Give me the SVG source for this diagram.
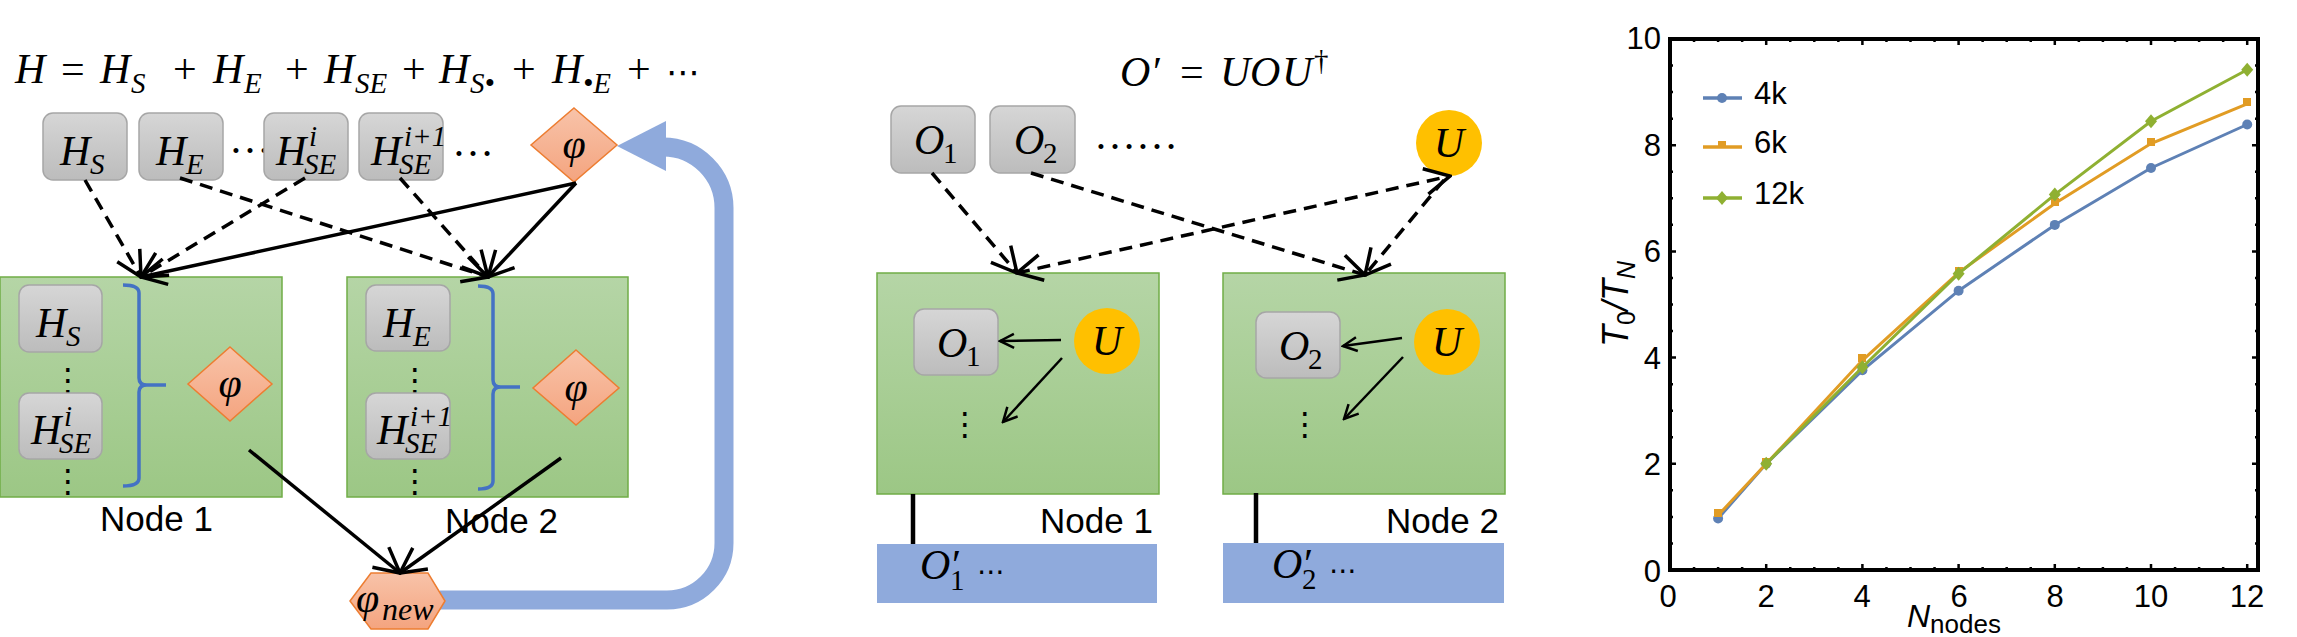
<svg xmlns="http://www.w3.org/2000/svg" width="2297" height="637" viewBox="0 0 2297 637">
<style>
.m{font-family:"Liberation Serif",serif;font-style:italic;font-size:42px;fill:#000}
.u{font-family:"Liberation Serif",serif;font-style:normal;font-size:42px}
.sb{font-size:29px}
.dots{font-family:"DejaVu Sans",sans-serif;font-style:normal;fill:#000}
.lbl{font-family:"Liberation Sans",Arial,sans-serif;font-size:35px;fill:#000}
.tick{font-family:"Liberation Sans",Arial,sans-serif;font-size:31px;fill:#000}
.box{fill:url(#gGray);stroke:#a6a6a6;stroke-width:1.5}
.node{fill:url(#gGreen);stroke:#70ad47;stroke-width:1.5}
.dia{fill:url(#gOrange);stroke:#ed7d31;stroke-width:1.5}
.ucirc{fill:#ffc000}
.out{fill:#8faadc}
.brk{fill:none;stroke:#4472c4;stroke-width:3.5}
.sol{fill:none;stroke:#000;stroke-width:3.5;marker-end:url(#ah)}
.dash{fill:none;stroke:#000;stroke-width:3.5;stroke-dasharray:13 8;marker-end:url(#ah)}
.thin{fill:none;stroke:#000;stroke-width:2.5;marker-end:url(#as)}
.vl{stroke:#000;stroke-width:4.5}
.ax{fill:none;stroke:#000;stroke-width:4}
.tk{stroke:#000;stroke-width:2.5}
</style>
<defs>
<linearGradient id="gGray" x1="0" y1="0" x2="0" y2="1"><stop offset="0" stop-color="#d6d6d6"/><stop offset="1" stop-color="#bcbcbc"/></linearGradient>
<linearGradient id="gGreen" x1="0" y1="0" x2="0" y2="1"><stop offset="0" stop-color="#b5d5a6"/><stop offset="1" stop-color="#9cc785"/></linearGradient>
<linearGradient id="gOrange" x1="0" y1="0" x2="0" y2="1"><stop offset="0" stop-color="#f8c3a9"/><stop offset="1" stop-color="#f4a47f"/></linearGradient>
<marker id="ah" markerUnits="userSpaceOnUse" viewBox="0 0 30 30" markerWidth="30" markerHeight="30" refX="28" refY="15" orient="auto-start-reverse"><path d="M3,2 L28,15 L3,28" fill="none" stroke="#000" stroke-width="3.5"/></marker>
<marker id="as" markerUnits="userSpaceOnUse" viewBox="0 0 18 18" markerWidth="18" markerHeight="18" refX="16" refY="9" orient="auto"><path d="M2,2 L16,9 L2,16" fill="none" stroke="#000" stroke-width="2.5"/></marker>
</defs>

<!-- ============ LEFT PANEL ============ -->
<text id="eqH" class="m" y="83"><tspan x="15">H</tspan><tspan class="u" x="61">=</tspan><tspan x="100">H</tspan><tspan class="sb" x="131" y="93">S</tspan><tspan class="u" x="173" y="83">+</tspan><tspan x="213">H</tspan><tspan class="sb" x="244" y="93">E</tspan><tspan class="u" x="285" y="83">+</tspan><tspan x="324">H</tspan><tspan class="sb" x="355" y="93">SE</tspan><tspan class="u" x="402" y="83">+</tspan><tspan x="439">H</tspan><tspan class="sb" x="470" y="93">S•</tspan><tspan class="u" x="512" y="83">+</tspan><tspan x="552">H</tspan><tspan class="sb" x="583" y="93">•E</tspan><tspan class="u" x="627" y="83">+</tspan></text>
<text class="dots" x="666" y="84" font-size="34">⋯</text>

<path id="feedback" d="M440,600 L667,600 A57,57 0 0 0 724,543 L724,208 A61,61 0 0 0 663,147" fill="none" stroke="#8faadc" stroke-width="19"/>
<polygon points="617,146 666,121 666,171" fill="#8faadc"/>

<g id="topHS"><rect class="box" x="43" y="113" width="84" height="67" rx="10"/><text class="m" x="60" y="165">H<tspan class="sb" x="90" y="174">S</tspan></text></g>
<g id="topHE"><rect class="box" x="139" y="113" width="84" height="67" rx="10"/><text class="m" x="156" y="165">H<tspan class="sb" x="186" y="174">E</tspan></text></g>
<text class="m" x="229" y="153" font-size="30" style="font-style:normal">…</text>
<g id="topHSEi"><rect class="box" x="264" y="113" width="84" height="67" rx="10"/><text class="m" x="276" y="165">H<tspan class="sb" x="304" y="174">SE</tspan><tspan class="sb" x="309" y="146">i</tspan></text></g>
<g id="topHSEi1"><rect class="box" x="359" y="113" width="84" height="67" rx="10"/><text class="m" x="371" y="165">H<tspan class="sb" x="399" y="174">SE</tspan><tspan class="sb" x="404" y="146">i+1</tspan></text></g>
<text class="m" x="452" y="156" font-size="30" style="font-style:normal">…</text>
<g id="topPhi"><polygon class="dia" points="574,108 617,145 574,182 531,145"/><text class="m" x="574" y="158" text-anchor="middle">φ</text></g>

<g id="node1L">
<rect class="node" x="0" y="277" width="282" height="220"/>
<rect class="box" x="19" y="285" width="83" height="67" rx="10"/><text class="m" x="36" y="337">H<tspan class="sb" x="66" y="346">S</tspan></text>
<text class="dots" x="52" y="391" font-size="32">⋮</text>
<rect class="box" x="19" y="393" width="83" height="66" rx="10"/><text class="m" x="31" y="444">H<tspan class="sb" x="59" y="453">SE</tspan><tspan class="sb" x="64" y="426">i</tspan></text>
<text class="dots" x="52" y="492" font-size="32">⋮</text>
<path class="brk" d="M123,285 Q139,285 139,293 L139,378 Q139,385 147,385 L166,385 M147,385 Q139,385 139,392 L139,478 Q139,486 123,486"/>
<polygon class="dia" points="230,347 272,384 230,421 188,384"/><text class="m" x="230" y="397" text-anchor="middle">φ</text>
<text class="lbl" x="100" y="531">Node 1</text>
</g>

<g id="node2L">
<rect class="node" x="347" y="277" width="281" height="220"/>
<rect class="box" x="366" y="285" width="84" height="66" rx="10"/><text class="m" x="383" y="337">H<tspan class="sb" x="413" y="346">E</tspan></text>
<text class="dots" x="399" y="391" font-size="32">⋮</text>
<rect class="box" x="366" y="393" width="84" height="66" rx="10"/><text class="m" x="377" y="444">H<tspan class="sb" x="405" y="453">SE</tspan><tspan class="sb" x="410" y="426">i+1</tspan></text>
<text class="dots" x="399" y="492" font-size="32">⋮</text>
<path class="brk" d="M478,286 Q493,286 493,294 L493,380 Q493,387 501,387 L520,387 M501,387 Q493,387 493,394 L493,481 Q493,489 478,489"/>
<polygon class="dia" points="576,350 619,388 576,425 533,388"/><text class="m" x="576" y="401" text-anchor="middle">φ</text>
<text class="lbl" x="445" y="533">Node 2</text>
</g>

<g id="phiNew"><polygon class="dia" points="350,601 371,573 428,573 445,601 428,629 371,629"/><text class="m" x="356" y="612">φ<tspan x="382" y="620" font-size="32">new</tspan></text></g>

<g id="connectorsL">
<line class="dash" x1="85" y1="180" x2="141" y2="277"/>
<line class="dash" x1="305" y1="178" x2="141" y2="277"/>
<line class="dash" x1="180" y1="178" x2="488" y2="277"/>
<line class="dash" x1="400" y1="178" x2="488" y2="277"/>
<line class="sol" x1="576" y1="183" x2="141" y2="277"/>
<line class="sol" x1="576" y1="183" x2="488" y2="277"/>
<line class="sol" x1="249" y1="450" x2="400" y2="573"/>
<line class="sol" x1="561" y1="458" x2="400" y2="573"/>
</g>

<!-- ============ MIDDLE PANEL ============ -->
<text id="eqO" class="m" y="86"><tspan x="1120">O</tspan><tspan class="u" x="1153">′</tspan><tspan class="u" x="1180">=</tspan><tspan x="1220">U</tspan><tspan x="1250">O</tspan><tspan x="1282">U</tspan><tspan class="u sb" x="1314" y="70">†</tspan></text>

<g id="topO1"><rect class="box" x="891" y="106" width="84" height="67" rx="10"/><text class="m" x="914" y="154">O<tspan class="u sb" x="943" y="163">1</tspan></text></g>
<g id="topO2"><rect class="box" x="990" y="106" width="85" height="67" rx="10"/><text class="m" x="1014" y="154">O<tspan class="u sb" x="1043" y="163">2</tspan></text></g>
<text class="m" x="1094" y="149" font-size="33" style="font-style:normal">……</text>
<g id="topU"><circle class="ucirc" cx="1449" cy="143" r="33"/><text class="m" x="1449" y="157" text-anchor="middle">U</text></g>

<g id="node1M">
<rect class="node" x="877" y="273" width="282" height="221"/>
<rect class="box" x="914" y="309" width="84" height="66" rx="10"/><text class="m" x="937" y="357">O<tspan class="u sb" x="966" y="366">1</tspan></text>
<circle class="ucirc" cx="1107" cy="341" r="33"/><text class="m" x="1107" y="355" text-anchor="middle">U</text>
<text class="dots" x="949" y="435" font-size="32">⋮</text>
<line class="thin" x1="1061" y1="340" x2="1000" y2="341"/>
<line class="thin" x1="1062" y1="358" x2="1003" y2="422"/>
<text class="lbl" x="1040" y="533">Node 1</text>
</g>
<g id="node2M">
<rect class="node" x="1223" y="273" width="282" height="221"/>
<rect class="box" x="1256" y="312" width="84" height="66" rx="10"/><text class="m" x="1279" y="360">O<tspan class="u sb" x="1308" y="369">2</tspan></text>
<circle class="ucirc" cx="1447" cy="342" r="33"/><text class="m" x="1447" y="356" text-anchor="middle">U</text>
<text class="dots" x="1289" y="435" font-size="32">⋮</text>
<line class="thin" x1="1402" y1="338" x2="1343" y2="346"/>
<line class="thin" x1="1403" y1="357" x2="1344" y2="419"/>
<text class="lbl" x="1386" y="533">Node 2</text>
</g>

<g id="out1"><line class="vl" x1="913" y1="494" x2="913" y2="546"/><rect class="out" x="877" y="544" width="280" height="59"/><text class="m" x="920" y="579">O<tspan class="u" x="952" y="579" font-size="30">′</tspan><tspan class="u sb" x="950" y="590">1</tspan></text><text class="dots" x="977" y="581" font-size="28">⋯</text></g>
<g id="out2"><line class="vl" x1="1256" y1="493" x2="1256" y2="544"/><rect class="out" x="1223" y="543" width="281" height="60"/><text class="m" x="1272" y="578">O<tspan class="u" x="1304" y="578" font-size="30">′</tspan><tspan class="u sb" x="1302" y="589">2</tspan></text><text class="dots" x="1329" y="580" font-size="28">⋯</text></g>

<g id="connectorsM">
<line class="dash" x1="932" y1="173" x2="1017" y2="273"/>
<line class="dash" x1="1031" y1="173" x2="1365" y2="275"/>
<line class="dash" x1="1017" y1="273" x2="1450" y2="176" style="marker-start:url(#ah)"/>
<line class="dash" x1="1444" y1="180" x2="1365" y2="275"/>
</g>

<!-- ============ CHART ============ -->
<g id="chart">
<rect class="ax" x="1670" y="39" width="588" height="531"/>
<g class="tk">
<path d="M1694.05,570v-3M1718.1,570v-3M1742.15,570v-3M1766.2,570v-6M1790.25,570v-3M1814.3,570v-3M1838.35,570v-3M1862.4,570v-6M1886.45,570v-3M1910.5,570v-3M1934.55,570v-3M1958.6,570v-6M1982.65,570v-3M2006.7,570v-3M2030.75,570v-3M2054.8,570v-6M2078.85,570v-3M2102.9,570v-3M2126.95,570v-3M2151,570v-6M2175.05,570v-3M2199.1,570v-3M2223.15,570v-3M2247.2,570v-6"/>
<path d="M1694.05,39v3M1718.1,39v3M1742.15,39v3M1766.2,39v6M1790.25,39v3M1814.3,39v3M1838.35,39v3M1862.4,39v6M1886.45,39v3M1910.5,39v3M1934.55,39v3M1958.6,39v6M1982.65,39v3M2006.7,39v3M2030.75,39v3M2054.8,39v6M2078.85,39v3M2102.9,39v3M2126.95,39v3M2151,39v6M2175.05,39v3M2199.1,39v3M2223.15,39v3M2247.2,39v6"/>
<path d="M1670,543.45h3M1670,516.9h3M1670,490.35h3M1670,463.8h6M1670,437.25h3M1670,410.7h3M1670,384.15h3M1670,357.6h6M1670,331.05h3M1670,304.5h3M1670,277.95h3M1670,251.4h6M1670,224.85h3M1670,198.3h3M1670,171.75h3M1670,145.2h6M1670,118.65h3M1670,92.1h3M1670,65.55h3"/>
<path d="M2258,543.45h-3M2258,516.9h-3M2258,490.35h-3M2258,463.8h-6M2258,437.25h-3M2258,410.7h-3M2258,384.15h-3M2258,357.6h-6M2258,331.05h-3M2258,304.5h-3M2258,277.95h-3M2258,251.4h-6M2258,224.85h-3M2258,198.3h-3M2258,171.75h-3M2258,145.2h-6M2258,118.65h-3M2258,92.1h-3M2258,65.55h-3"/>
</g>
<g class="tick" text-anchor="middle">
<text x="1668" y="607">0</text><text x="1766" y="607">2</text><text x="1862" y="607">4</text><text x="1959" y="607">6</text><text x="2055" y="607">8</text><text x="2151" y="607">10</text><text x="2247" y="607">12</text>
</g>
<g class="tick" text-anchor="end">
<text x="1661" y="582">0</text><text x="1661" y="475">2</text><text x="1661" y="369">4</text><text x="1661" y="262">6</text><text x="1661" y="156">8</text><text x="1661" y="49">10</text>
</g>
<text x="1907" y="627" font-family="'Liberation Sans',Arial,sans-serif" font-style="italic" font-size="32">N<tspan font-style="normal" font-size="26" y="633">nodes</tspan></text>
<text transform="translate(1628,304) rotate(-90)" text-anchor="middle" font-family="'Liberation Sans',Arial,sans-serif" font-style="italic" font-size="36">T<tspan font-style="normal" font-size="25" dy="7">0</tspan><tspan dy="-7">/T</tspan><tspan font-size="25" dy="7">N</tspan></text>

<polyline points="1718.1,518.5 1766.2,463.8 1862.4,370.3 1958.6,290.7 2054.8,224.9 2151,168 2247.2,124.5" fill="none" stroke="#5e81b5" stroke-width="3"/>
<g fill="#5e81b5"><circle cx="1718.1" cy="518.5" r="5"/><circle cx="1766.2" cy="463.8" r="5"/><circle cx="1862.4" cy="370.3" r="5"/><circle cx="1958.6" cy="290.7" r="5"/><circle cx="2054.8" cy="224.9" r="5"/><circle cx="2151" cy="168" r="5"/><circle cx="2247.2" cy="124.5" r="5"/></g>
<polyline points="1718.1,515.3 1766.2,463.8 1862.4,360.3 1958.6,272.6 2054.8,203.6 2151,143.6 2247.2,103.8" fill="none" stroke="#e19c24" stroke-width="3"/>
<g fill="#e19c24"><rect x="1714" y="509" width="8" height="8"/><rect x="1762" y="458" width="8" height="8"/><rect x="1858" y="354" width="8" height="8"/><rect x="1955" y="267" width="8" height="8"/><rect x="2051" y="198" width="8" height="8"/><rect x="2147" y="138" width="8" height="8"/><rect x="2243" y="98" width="8" height="8"/></g>
<polyline points="1766.2,463.8 1862.4,367.2 1958.6,273.7 2054.8,194.6 2151,121.3 2247.2,69.8" fill="none" stroke="#8fb032" stroke-width="3"/>
<g fill="#8fb032"><path d="M1766.2,456.8l6,7l-6,7l-6,-7z"/><path d="M1862.4,360.2l6,7l-6,7l-6,-7z"/><path d="M1958.6,266.7l6,7l-6,7l-6,-7z"/><path d="M2054.8,187.6l6,7l-6,7l-6,-7z"/><path d="M2151,114.3l6,7l-6,7l-6,-7z"/><path d="M2247.2,62.8l6,7l-6,7l-6,-7z"/></g>

<g id="legend">
<line x1="1703" y1="98" x2="1742" y2="98" stroke="#5e81b5" stroke-width="3.5"/><circle cx="1722" cy="98" r="5" fill="#5e81b5"/><text class="tick" x="1754" y="104">4k</text>
<line x1="1703" y1="147" x2="1742" y2="147" stroke="#e19c24" stroke-width="3.5"/><rect x="1718" y="141" width="8" height="6" fill="#e19c24"/><text class="tick" x="1754" y="153">6k</text>
<line x1="1703" y1="198" x2="1742" y2="198" stroke="#8fb032" stroke-width="3.5"/><path d="M1722,191l6,7l-6,7l-6,-7z" fill="#8fb032"/><text class="tick" x="1754" y="204">12k</text>
</g>
</g>
</svg>
